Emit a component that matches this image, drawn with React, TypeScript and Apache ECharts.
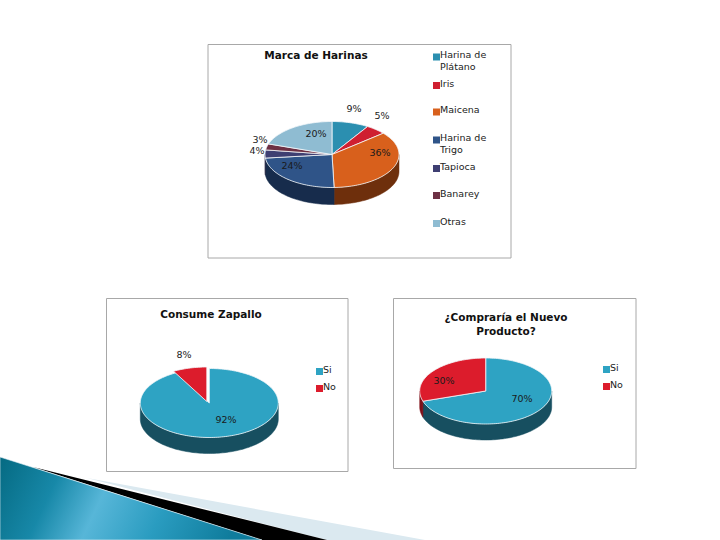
import React, { useEffect, useRef } from "react";
import * as echarts from "echarts";

const harinasNames = ["Harina de Plátano", "Iris", "Maicena", "Harina de Trigo", "Tapioca", "Banarey", "Otras"];
const harinasValues = [9, 5, 36, 24, 4, 3, 20];
const harinasLabels = ["9%", "5%", "36%", "24%", "4%", "3%", "20%"];
const zapalloNames = ["Si", "No"];
const zapalloValues = [92, 8];
const zapalloLabels = ["92%", "8%"];
const compraNames = ["Si", "No"];
const compraValues = [70, 30];
const compraLabels = ["70%", "30%"];

const FONT = "DejaVu Sans";
const TOP = { teal: "#2b8fb0", red: "#cf1f30", orange: "#d8601c", blue: "#2f5488", ink: "#3e3f72", wine: "#6d3044", sky: "#8fbcd2", teal2: "#2ea3c3", red2: "#dc1c2c" };
const WALL = { teal: "#175a70", red: "#801420", orange: "#6e2f0c", blue: "#172c4c", ink: "#22223f", wine: "#3c1a26", sky: "#4d7080", teal2: "#174f60", red2: "#7e1019" };

type Pie = {
  key: string; names: string[]; values: number[]; labels: string[]; colors: string[]; walls: string[];
  cx: number; cy: number; rx: number; ry: number; depth: number;
  labelAt: number[][]; offsets: number[][]; legendX: number; legendY: number[];
};

const pies: Pie[] = [
  {
    key: "h", names: harinasNames, values: harinasValues, labels: harinasLabels,
    colors: [TOP.teal, TOP.red, TOP.orange, TOP.blue, TOP.ink, TOP.wine, TOP.sky],
    walls: [WALL.teal, WALL.red, WALL.orange, WALL.blue, WALL.ink, WALL.wine, WALL.sky],
    cx: 332, cy: 154.5, rx: 67, ry: 33, depth: 17,
    labelAt: [[354, 108], [382, 115], [380, 152], [292, 165], [257, 150], [260, 139], [316, 133]],
    offsets: [[0, 0], [0, 0], [0, 0], [0, 0], [0, 0], [0, 0], [0, 0]],
    legendX: 433, legendY: [60.5, 83, 109.5, 143.5, 166, 193, 221],
  },
  {
    key: "z", names: zapalloNames, values: zapalloValues, labels: zapalloLabels,
    colors: [TOP.teal2, TOP.red2], walls: [WALL.teal2, WALL.red2],
    cx: 209.3, cy: 403, rx: 69, ry: 34.5, depth: 16,
    labelAt: [[226, 419], [184, 354]],
    offsets: [[0, 0], [-2.5, -1.5]],
    legendX: 316, legendY: [369, 386],
  },
  {
    key: "c", names: compraNames, values: compraValues, labels: compraLabels,
    colors: [TOP.teal2, TOP.red2], walls: [WALL.teal2, WALL.red2],
    cx: 485.7, cy: 391, rx: 66, ry: 33, depth: 16,
    labelAt: [[522, 398], [444, 380]],
    offsets: [[0, 0], [0, 0]],
    legendX: 603, legendY: [367, 384],
  },
];

const titles = [
  { text: "Marca de Harinas", left: 316, top: 48 },
  { text: "Consume Zapallo", left: 211, top: 307 },
  { text: "¿Compraría el Nuevo\nProducto?", left: 506, top: 310 },
];

const frames = [
  [208, 44.5, 303, 213.5],
  [106.5, 298.5, 241.5, 173],
  [393.5, 298.5, 242.5, 170],
];

function ellipsePoints(p: Pie, a: number, b: number, dx: number, dy: number, drop: number) {
  const pts: number[][] = [];
  const steps = Math.max(2, Math.ceil((b - a) / 0.03));
  for (let i = 0; i <= steps; i++) {
    const t = a + ((b - a) * i) / steps;
    pts.push([p.cx + dx + p.rx * Math.sin(t), p.cy + dy + drop - p.ry * Math.cos(t)]);
  }
  return pts;
}

function sliceSeries(p: Pie, i: number) {
  const total = p.values.reduce((s, v) => s + v, 0);
  const before = p.values.slice(0, i).reduce((s, v) => s + v, 0);
  return {
    type: "custom",
    name: p.names[i],
    coordinateSystem: "none",
    silent: true,
    itemStyle: { color: p.colors[i] },
    data: [[p.values[i]]],
    renderItem: (_: any, api: any) => {
      const a = (before / total) * Math.PI * 2;
      const b = ((before + api.value(0)) / total) * Math.PI * 2;
      const [dx, dy] = p.offsets[i];
      const children: any[] = [];
      const w0 = Math.max(a, Math.PI / 2);
      const w1 = Math.min(b, (Math.PI * 3) / 2);
      if (w1 > w0) {
        const upper = ellipsePoints(p, w0, w1, dx, dy, 0);
        const lower = ellipsePoints(p, w0, w1, dx, dy, p.depth).reverse();
        children.push({
          type: "polygon",
          shape: { points: upper.concat(lower) },
          style: { fill: p.walls[i], stroke: p.walls[i], lineWidth: 0.5 },
        });
      }
      const rim = ellipsePoints(p, a, b, dx, dy, 0);
      children.push({
        type: "polygon",
        shape: { points: [[p.cx + dx, p.cy + dy], ...rim] },
        style: { fill: p.colors[i], stroke: "#f4f8fa", lineWidth: 0.8 },
        z2: 5,
      });
      children.push({
        type: "text",
        x: p.labelAt[i][0],
        y: p.labelAt[i][1],
        z2: 10,
        style: { text: p.labels[i], fill: "#1a1a1a", font: `9.5px "${FONT}"`, align: "center", verticalAlign: "middle" },
      });
      return { type: "group", children };
    },
  };
}

function legendFor(p: Pie, i: number) {
  const wrapped = p.names[i].replace(/^(Harina de) /, "$1\n");
  const two = wrapped.includes("\n");
  return {
    left: p.legendX,
    top: p.legendY[i] - (two ? 12 : 6),
    selectedMode: false,
    padding: 0,
    itemWidth: 7,
    itemHeight: two ? 24 : 12,
    itemGap: 0,
    icon: two ? "path://M0 5h7v7h-7z M0 0h0z M0 24h0z" : "path://M0 5h7v7h-7z M0 0h0z",
    data: [p.names[i]],
    formatter: () => wrapped,
    textStyle: { fontFamily: FONT, fontSize: 9.5, color: "#222", padding: [0, 0, 0, -5], lineHeight: 12 },
  };
}

export default function App() {
  const ref = useRef<HTMLDivElement>(null);
  useEffect(() => {
    const chart = echarts.init(ref.current!, undefined, { renderer: "svg" });
    const series = pies.flatMap((p) => p.names.map((_, i) => sliceSeries(p, i)));
    const legends = pies.flatMap((p) => p.names.map((_, i) => legendFor(p, i)));
    chart.setOption({
      animation: false,
      backgroundColor: "#ffffff",
      title: titles.map((t) => ({
        text: t.text, left: t.left, top: t.top, textAlign: "center", padding: 0, itemGap: 0,
        textStyle: { fontFamily: FONT, fontSize: 10.5, fontWeight: "bold", color: "#111", lineHeight: 14 },
      })),
      legend: legends,
      series,
      graphic: [
        ...frames.map(([x, y, width, height]) => ({
          type: "rect", shape: { x, y, width, height },
          style: { fill: "none", stroke: "#a8a8a8", lineWidth: 1 }, silent: true,
        })),
        {
          type: "polygon", silent: true,
          shape: { points: [[87, 478], [425, 540], [327, 540]] },
          style: { fill: "#dbe9f0" },
        },
        {
          type: "polygon", silent: true,
          shape: { points: [[33, 467], [327, 540], [262, 540]] },
          style: { fill: "#000000" },
        },
        {
          type: "polygon", silent: true,
          shape: { points: [[0, 457], [262, 540], [0, 540]] },
          style: {
            stroke: "#e8f2f6", lineWidth: 0.6,
            fill: new echarts.graphic.LinearGradient(0, 0, 1, 0.15, [
              { offset: 0, color: "#056a82" },
              { offset: 0.25, color: "#1788a8" },
              { offset: 0.45, color: "#57b6d8" },
              { offset: 0.7, color: "#2a9cc0" },
              { offset: 1, color: "#0f7c9c" },
            ]),
          },
        },
      ],
    });
    return () => chart.dispose();
  }, []);
  return <div ref={ref} style={{ position: "absolute", left: 0, top: 0, width: 720, height: 540 }} />;
}
